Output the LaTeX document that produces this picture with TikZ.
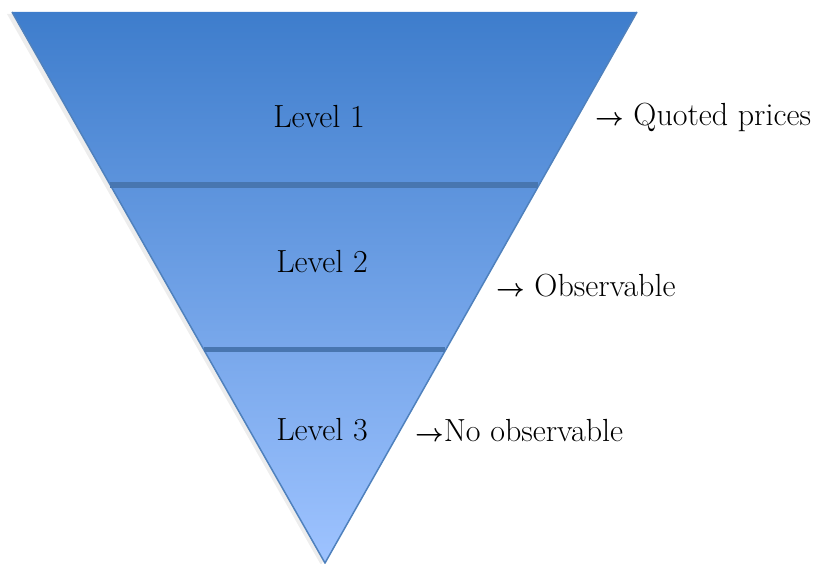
\documentclass[tikz,border=0pt]{standalone}
\usepackage{amsmath}
\usepackage{amssymb}
\usepackage{bm}
\usepackage{tikz}
\usetikzlibrary{positioning}

\definecolor{topblue}{RGB}{62,125,204}
\definecolor{lowblue}{RGB}{158,195,255}
\definecolor{edgeblue}{RGB}{79,129,189}
\definecolor{barblue}{RGB}{72,118,176}

\tikzset{
	level/.style={font=\fontsize{32}{36}\selectfont, inner sep=0pt},
	remark/.style={font=\fontsize{32}{36}\selectfont, inner sep=0pt, anchor=west},
	bar/.style={barblue, line width=5pt}
}

\begin{document}
\begin{tikzpicture}[x=1pt, y=-1pt]
	\useasboundingbox (0,0) rectangle (821,564);
	
	\coordinate (TL) at (12,12);
	\coordinate (TR) at (637,12);
	\coordinate (Tip) at (325,563);
	
	\fill[black, opacity=.07] (7,14) -- (633,14) -- (321,565) -- cycle;
	\shade[top color=topblue, bottom color=lowblue] (TL) -- (TR) -- (Tip) -- cycle;
	\draw[edgeblue, line width=1.5pt, line join=miter] (TL) -- (Tip) -- (TR);
	
	\draw[bar] (110,185) -- (538,185);
	\draw[bar] (204,349) -- (445,349);
	
	\node[level] (L1) at (319,117) {Level 1};
	\node[level] (L2) at (322,262) {Level 2};
	\node[level] (L3) at (322,430) {Level 3};
	
	\node[remark] (R1) at (595,117) {$\bm{\rightarrow}$ Quoted prices};
	\node[remark] (R2) at (496,286) {$\bm{\rightarrow}$ Observable};
	\node[remark] (R3) at (415,431) {$\bm{\rightarrow}$No observable};
\end{tikzpicture}
\end{document}
